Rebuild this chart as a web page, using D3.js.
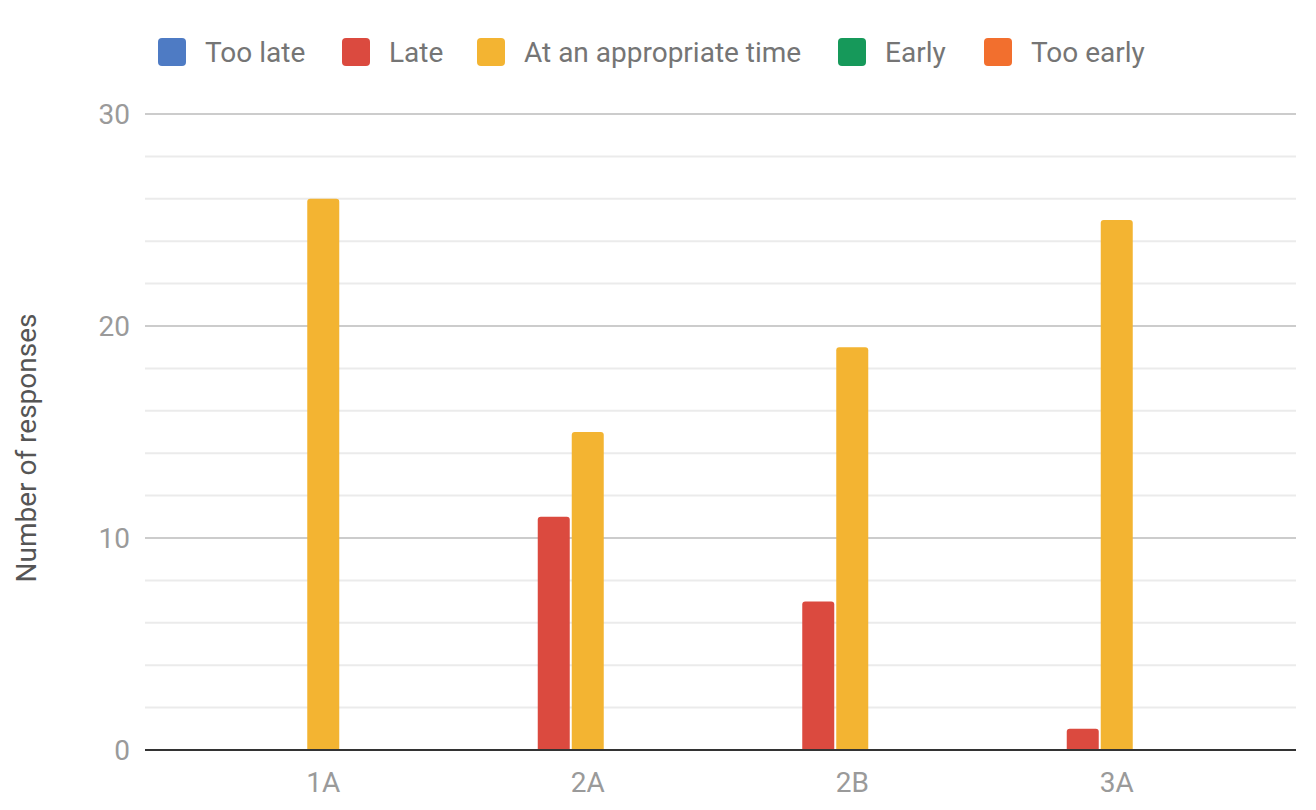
<!DOCTYPE html>
<html>
<head>
<meta charset="utf-8">
<script src="https://cdn.jsdelivr.net/npm/d3@7/dist/d3.min.js"></script>
<style>
  html, body { margin: 0; padding: 0; background: #fff; }
  svg { display: block; font-family: Roboto, "Noto Sans", sans-serif; }
</style>
</head>
<body>
<svg id="chart" width="1316" height="810"></svg>
<script>
const categories = ["1A", "2A", "2B", "3A"];
const seriesNames = ["Too late", "Late", "At an appropriate time", "Early", "Too early"];
const seriesColors = ["#4e7bc4", "#db4a3f", "#f3b432", "#16995a", "#f26f2e"];
const tooLate = [0, 0, 0, 0];
const late = [0, 11, 7, 1];
const appropriate = [26, 15, 19, 25];
const early = [0, 0, 0, 0];
const tooEarly = [0, 0, 0, 0];
const seriesValues = [tooLate, late, appropriate, early, tooEarly];
const yTicksMajor = [0, 10, 20, 30];
const yTitle = "Number of responses";

const svg = d3.select("#chart");
const plotLeft = 145, plotRight = 1296, plotTop = 114, plotBottom = 750;

const x0 = d3.scaleBand().domain(categories).range([191, 1249]).paddingInner(0).paddingOuter(0);
const x1 = d3.scaleBand().domain(seriesNames).range([-85, 85]).paddingInner(2 / 34).paddingOuter(1 / 34);
const y = d3.scaleLinear().domain([0, 30]).range([plotBottom, plotTop]);

// minor gridlines
const minor = d3.range(2, 30, 2).filter(v => v % 10 !== 0);
svg.append("g").selectAll("line").data(minor).join("line")
  .attr("x1", plotLeft).attr("x2", plotRight)
  .attr("y1", d => y(d)).attr("y2", d => y(d))
  .attr("stroke", "#ebebeb").attr("stroke-width", 2);

// major gridlines
svg.append("g").selectAll("line").data(yTicksMajor.filter(v => v > 0)).join("line")
  .attr("x1", plotLeft).attr("x2", plotRight)
  .attr("y1", d => y(d)).attr("y2", d => y(d))
  .attr("stroke", "#cccccc").attr("stroke-width", 2);

// y tick labels
svg.append("g").selectAll("text").data(yTicksMajor).join("text")
  .attr("x", 130).attr("y", d => y(d) + 10)
  .attr("text-anchor", "end")
  .attr("font-size", 28).attr("fill", "#9a9a9a")
  .text(d => d);

// bars
function barPath(x, w, yTop, yBot, r) {
  r = Math.min(r, (yBot - yTop), w / 2);
  return `M${x},${yBot}V${yTop + r}Q${x},${yTop} ${x + r},${yTop}H${x + w - r}Q${x + w},${yTop} ${x + w},${yTop + r}V${yBot}Z`;
}
const bars = [];
seriesNames.forEach((s, i) => {
  categories.forEach((c, j) => {
    const v = seriesValues[i][j];
    if (v > 0) bars.push({ s, i, c, v });
  });
});
svg.append("g").selectAll("path").data(bars).join("path")
  .attr("d", d => {
    const cx = x0(d.c) + x0.bandwidth() / 2;
    const bx = cx + x1(d.s);
    return barPath(bx, x1.bandwidth(), y(d.v), y(0), 3);
  })
  .attr("fill", d => seriesColors[d.i]);

// baseline axis
svg.append("line")
  .attr("x1", plotLeft).attr("x2", plotRight)
  .attr("y1", y(0)).attr("y2", y(0))
  .attr("stroke", "#333333").attr("stroke-width", 2);

// x labels
svg.append("g").selectAll("text").data(categories).join("text")
  .attr("x", d => x0(d) + x0.bandwidth() / 2)
  .attr("y", 792)
  .attr("text-anchor", "middle")
  .attr("font-size", 28).attr("fill", "#9a9a9a")
  .text(d => d);

// y title
svg.append("text")
  .attr("transform", `translate(36,448) rotate(-90)`)
  .attr("text-anchor", "middle")
  .attr("font-size", 28).attr("fill", "#555555")
  .text(yTitle);

// legend
const legendX = [158, 342, 477, 838, 984];
const lg = svg.append("g").selectAll("g").data(seriesNames).join("g")
  .attr("transform", (d, i) => `translate(${legendX[i]},38)`);
lg.append("rect").attr("width", 28).attr("height", 28).attr("rx", 4)
  .attr("fill", (d, i) => seriesColors[i]);
lg.append("text").attr("x", 47).attr("y", 24)
  .attr("font-size", 28).attr("fill", "#757575")
  .text(d => d);
</script>
</body>
</html>
